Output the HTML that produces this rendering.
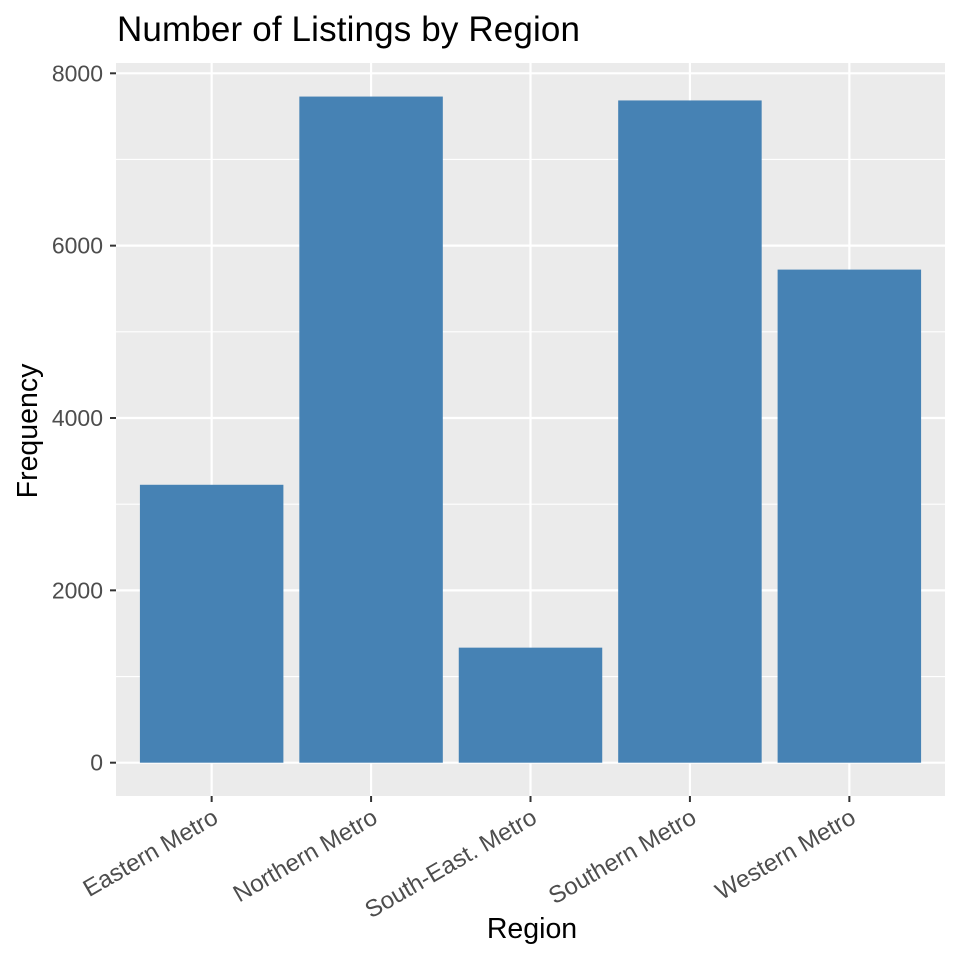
<!DOCTYPE html>
<html><head><meta charset="utf-8"><style>
body{margin:0;background:#fff;}
svg text{font-family:"Liberation Sans",Arial,sans-serif;}
</style></head><body>
<svg width="960" height="960" xmlns="http://www.w3.org/2000/svg" id="chart">
<text x="117" y="41" font-size="35" fill="#000" textLength="463">Number of Listings by Region</text>
<rect x="116" y="63" width="829" height="733" fill="#ebebeb"/>
<g id="grid"></g>
<g id="bars"></g>
<g id="axes"></g>
<text x="532" y="938" font-size="28.5" text-anchor="middle">Region</text>
<text transform="translate(37,431) rotate(-90)" font-size="28.5" text-anchor="middle">Frequency</text>
</svg>
<script>
const categories=["Eastern Metro","Northern Metro","South-East. Metro","Southern Metro","Western Metro"];
const values=[3225,7730,1335,7685,5722];
const yTicks=[0,2000,4000,6000,8000];
const yTickLabels=["0","2000","4000","6000","8000"];
const NS="http://www.w3.org/2000/svg";
const L=116,R=945,T=63,B=796;
const y0=-386.5,y1=8119.5;
function y(v){return B-(v-y0)/(y1-y0)*(B-T);}
const n=categories.length,unit=(R-L)/(n+0.2);
function x(i){return L+(i+0.6)*unit;}
function mk(tag,attrs,parent){const e=document.createElementNS(NS,tag);for(const k in attrs)e.setAttribute(k,attrs[k]);parent.appendChild(e);return e;}
const grid=document.getElementById('grid'),bars=document.getElementById('bars'),axes=document.getElementById('axes');
for(let i=0;i<yTicks.length-1;i++){const m=(yTicks[i]+yTicks[i+1])/2;
 const g=mk('line',{x1:L,x2:R,y1:y(m),y2:y(m),stroke:'#fff','stroke-width':1.1},grid);
 
 }
yTicks.forEach((t,i)=>{
 const g=mk('line',{x1:L,x2:R,y1:y(t),y2:y(t),stroke:'#fff','stroke-width':2.2},grid);
 
 
 const tk=mk('line',{x1:L-6,x2:L,y1:y(t),y2:y(t),stroke:'#333','stroke-width':2},axes);
 
 
 const tx=mk('text',{x:L-13,y:y(t)+8,'font-size':23,fill:'#4d4d4d','text-anchor':'end'},axes);
 tx.textContent=yTickLabels[i];
 
 
});
categories.forEach((c,i)=>{
 const g=mk('line',{x1:x(i),x2:x(i),y1:T,y2:B,stroke:'#fff','stroke-width':2.2},grid);
 
 
 const w=0.9*unit;
 const b=mk('rect',{x:x(i)-w/2,y:y(values[i]),width:w,height:y(0)-y(values[i]),fill:'#4682b4'},bars);
 
 
 const tk=mk('line',{x1:x(i),x2:x(i),y1:B,y2:B+6,stroke:'#333','stroke-width':2},axes);
 
 
 const tx=mk('text',{transform:`translate(${x(i)+8},${B+26}) rotate(-30)`,'font-size':24,fill:'#4d4d4d','text-anchor':'end'},axes);
 tx.textContent=c;
 
 
});
</script>
</body></html>
